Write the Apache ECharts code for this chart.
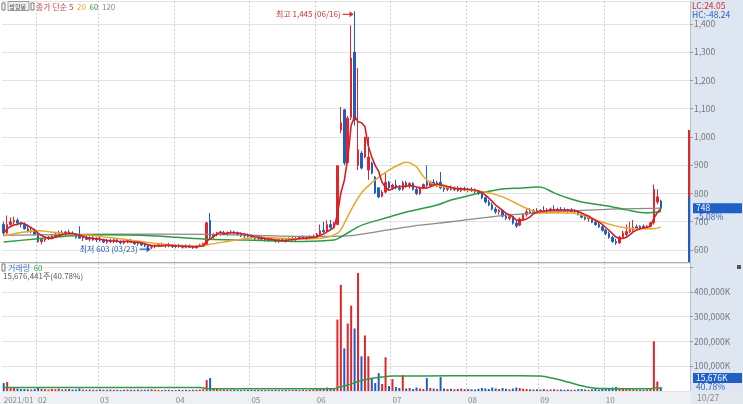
<!DOCTYPE html>
<html><head><meta charset="utf-8">
<script src="https://cdn.jsdelivr.net/npm/echarts/dist/echarts.min.js"></script>
<style>html,body{margin:0;padding:0;background:#fff}#c{width:743px;height:404px}</style>
</head><body><div id="c"></div>
<script>
// ---- calendar ----
const START = '2021-01-18', END = '2021-10-27';
const holidays = ['2021-02-11','2021-02-12','2021-03-01','2021-05-05','2021-05-19','2021-08-16','2021-09-20','2021-09-21','2021-09-22','2021-10-04','2021-10-11'];
const padSlots = 8;

// ---- daily OHLC (KRW) ----
const open = [
 690,660,690,700,705,695,690,675,665,668,
 660,630,636,640,645,650,656,662,655,664,660,652,648,642,645,638,643,636,
 640,634,628,632,630,636,628,625,630,633,628,622,626,618,615,610,612,616,620,615,618,614,
 612,616,612,610,615,610,608,614,618,620,705,648,655,660,662,658,662,664,660,656,650,652,
 648,645,640,644,638,635,638,633,630,636,632,637,641,638,642,645,640,644,648,
 645,656,670,665,690,682,690,1025,1096,910,1070,1300,900,943,929,883,908,858,820,790,805,840,
 820,830,820,815,838,828,835,815,800,820,840,828,840,830,840,820,815,822,814,820,810,818,
 812,815,810,806,800,785,770,760,745,735,740,720,712,718,695,688,710,725,735,732,740,
 736,740,738,742,745,740,744,742,738,742,736,738,725,716,710,712,698,690,682,
 670,658,645,630,625,645,655,665,672,682,676,684,680,684,696,770,773];
const close = [
 660,690,700,705,695,690,675,665,668,655,
 630,638,640,646,650,656,662,655,664,660,652,645,642,645,638,643,636,640,
 634,628,632,630,636,628,625,630,633,628,622,626,618,615,610,612,616,620,615,618,614,612,
 616,612,610,615,610,608,614,618,622,696,648,655,660,662,658,662,664,660,656,650,652,648,
 645,640,644,638,635,638,633,630,636,632,637,641,638,642,645,640,644,648,645,
 656,668,665,690,680,692,898,1050,908,1067,1280,1060,955,890,1000,929,872,802,788,805,840,820,
 830,820,815,838,828,835,815,800,820,832,828,840,830,838,820,815,822,814,820,810,818,812,
 815,810,806,800,785,770,760,745,735,740,720,712,718,695,685,710,725,735,732,740,736,
 740,738,742,745,740,744,742,738,742,736,738,725,716,710,712,698,690,682,670,
 658,645,630,625,645,660,665,672,680,675,684,680,684,696,815,788,748];
const low = [
 650,655,685,690,690,680,672,662,660,652,
 626,620,628,635,638,645,650,652,650,655,648,640,640,632,635,630,632,628,
 630,625,622,625,624,626,620,620,624,626,618,615,614,610,606,603,606,610,612,608,610,607,
 606,608,605,606,607,604,605,610,612,618,636,640,648,650,652,650,655,655,650,646,642,644,
 640,636,634,636,630,628,630,626,625,628,626,630,634,632,636,638,634,638,640,
 640,650,660,660,675,676,688,1014,900,905,1060,1040,883,885,925,848,868,798,784,786,800,812,
 812,815,810,810,820,818,810,795,795,815,823,822,825,822,815,805,808,810,808,806,805,808,
 804,806,800,795,780,765,755,740,728,725,715,706,705,690,678,684,705,718,728,726,730,
 728,732,730,735,736,733,736,735,730,732,728,722,712,705,700,695,685,678,665,
 652,640,625,618,622,640,650,660,665,672,670,675,674,680,690,762,735];
const high = [
 700,722,715,718,712,700,698,690,680,676,
 665,642,645,650,655,662,668,670,668,672,666,660,684,650,652,648,650,645,
 648,640,638,640,640,642,634,635,638,640,632,630,630,625,620,618,620,624,626,622,625,620,
 620,622,618,620,620,616,618,622,626,700,731,660,664,668,668,666,670,668,665,662,656,658,
 655,650,648,650,644,642,645,640,640,642,640,645,648,646,650,652,648,652,655,
 660,690,700,705,706,700,900,1106,1100,1075,1395,1445,1244,950,1000,1000,912,862,822,812,872,845,
 835,848,830,845,845,840,840,822,825,835,900,845,850,845,876,830,826,828,825,826,822,824,
 820,822,818,812,805,790,778,768,752,745,742,730,725,722,705,715,730,745,748,745,748,
 745,755,748,750,758,750,752,750,746,748,745,742,730,722,718,715,705,698,688,
 675,665,650,640,650,668,690,700,706,690,688,690,688,700,832,815,778];
// ---- daily volume (thousand shares) ----
const volume = [
 32000,36000,14000,12000,10000,8000,8000,7000,6000,8000,
 12000,9000,7000,6000,8000,7000,9000,6000,7000,8000,6000,6000,10000,6000,5000,6000,5000,5000,
 6000,5000,5000,6000,5000,5000,4000,5000,6000,5000,5000,6000,5000,5000,6000,7000,5000,5000,4000,5000,5000,4000,
 4000,5000,4000,5000,4000,5000,5000,6000,7000,44000,52000,12000,8000,7000,6000,6000,5000,6000,5000,4000,5000,5000,
 5000,4000,5000,4000,4000,5000,4000,5000,4000,4000,5000,4000,5000,5000,4000,5000,4000,5000,6000,
 8000,12000,10000,14000,9000,10000,288000,428000,172000,272000,344000,252000,476000,140000,224000,140000,52000,32000,72000,28000,136000,20000,
 48000,16000,12000,64000,10000,12000,8000,14000,10000,8000,52000,12000,10000,8000,56000,10000,8000,9000,7000,8000,10000,7000,
 8000,7000,6000,9000,12000,10000,8000,14000,10000,8000,12000,9000,7000,10000,14000,12000,9000,8000,7000,6000,7000,
 6000,8000,5000,6000,7000,5000,6000,5000,6000,5000,5000,7000,8000,6000,5000,7000,8000,6000,9000,
 10000,12000,14000,16000,12000,10000,9000,8000,7000,6000,6000,5000,6000,10000,200000,38441,15676.441];
// ---- moving averages: [day index, value] ----
const ma20Pts = [[0,650],[5,662],[10,668],[15,662],[20,655],[25,652],[30,645],[35,638],[40,630],[45,622],[50,617],[55,614],[58,614],[60,620],[65,630],[70,640],[75,645],[80,642],[85,640],[90,640],[95,648],[97,660],[98,671],[101,742],[104,802],[108,848],[112,883],[116,908],[117,911],[120,894],[122,860],[125,832],[130,820],[135,812],[140,805],[145,788],[150,759],[153,742],[156,731],[160,731],[165,731],[168,724],[172,706],[177,688],[181,678],[185,675],[189,675],[191,681]];
const ma60Pts = [[0,628],[10,640],[20,650],[30,654],[40,652],[50,645],[60,638],[70,635],[80,632],[87,630],[96,635],[98,646],[103,682],[106,696],[111,713],[116,731],[121,745],[126,759],[130,777],[136,795],[140,805],[145,816],[150,819],[155,823],[157,820],[160,802],[163,788],[168,770],[176,755],[181,742],[187,731],[191,735]];
const ma120Pts = [[0,652],[30,656],[60,655],[90,648],[100,650],[110,668],[121,688],[130,700],[145,722],[160,735],[175,744],[191,748]];
const volMa60Pts = [[0,14000],[57,14000],[60,9000],[96,9000],[97,13000],[100,24000],[103,38000],[106,48000],[110,56000],[113,60000],[130,61000],[150,61000],[156,60000],[160,50000],[164,36000],[168,21000],[172,11000],[180,9000],[188,9000],[189,12000],[191,12000]];
const prevVolume = 38441;
const limitRate = 0.3;

// ---- build ----
function fmt(d){return d.toISOString().slice(0,10);}
const dates=[];
for(let d=new Date(START+'T00:00:00Z'); fmt(d)<=END; d.setUTCDate(d.getUTCDate()+1)){
  const w=d.getUTCDay(); const s=fmt(d);
  if(w!==0&&w!==6&&holidays.indexOf(s)<0) dates.push(s);
}
const N=dates.length;
const cats=dates.concat(Array.from({length:padSlots},(_,k)=>'pad'+k));
const monthStart=cats.map((d,i)=>i<N&&(i===0||d.slice(5,7)!==dates[i-1].slice(5,7)));
const UP='#e0252b', DOWN='#1f5cc4';
const candle=dates.map((d,i)=>[open[i],close[i],low[i],high[i]]);
const ma5=close.map((c,i)=>{const s=close.slice(Math.max(0,i-4),i+1);return +(s.reduce((a,b)=>a+b,0)/s.length).toFixed(1);});
const FONT='"Noto Sans CJK KR", "Noto Sans", sans-serif';
const chart=echarts.init(document.getElementById('c'));
const splitLineX={show:true,interval:(i)=>monthStart[i]&&i>0,lineStyle:{color:'#cfcfcf',type:[2,2],width:1}};
const option={
  animation:false,
  textStyle:{fontFamily:FONT},
  grid:[{left:2,right:53,top:1,height:261},{left:2,right:53,top:263,height:129}],
  xAxis:[
    {type:'category',gridIndex:0,data:cats,boundaryGap:true,axisLine:{show:false},axisTick:{show:false},axisLabel:{show:false},splitLine:splitLineX},
    {type:'category',gridIndex:1,data:cats,boundaryGap:true,axisLine:{show:false},axisTick:{show:false},
     axisLabel:{show:true,interval:(i)=>monthStart[i],formatter:(v,i)=>i===0?v.slice(0,4)+'/'+v.slice(5,7):v.slice(5,7),align:'left',color:'#888',fontSize:8,margin:5,fontFamily:FONT},
     splitLine:splitLineX}
  ],
  yAxis:[
    {type:'value',gridIndex:0,position:'right',min:557.5,max:1481.4,minInterval:100,maxInterval:100,splitNumber:9,
     axisLine:{show:true,lineStyle:{color:'#b8c2cc'}},axisTick:{show:true,length:3,lineStyle:{color:'#999'}},
     axisLabel:{showMinLabel:false,showMaxLabel:false,formatter:v=>v.toLocaleString('en-US'),color:'#777',fontSize:8.5,margin:4,fontFamily:FONT},
     splitLine:{lineStyle:{color:'#e3e3e3'}}},
    {type:'value',gridIndex:1,position:'right',min:0,max:516000,minInterval:100000,maxInterval:100000,splitNumber:5,
     axisLine:{show:true,lineStyle:{color:'#b8c2cc'}},axisTick:{show:true,length:3,lineStyle:{color:'#999'}},
     axisLabel:{showMinLabel:false,showMaxLabel:false,formatter:v=>v>=500000?'':v.toLocaleString('en-US')+'K',color:'#777',fontSize:8.5,margin:4,fontFamily:FONT},
     splitLine:{lineStyle:{color:'#e3e3e3'}}}
  ],
  series:[
    {type:'candlestick',xAxisIndex:0,yAxisIndex:0,data:candle,barWidth:2,
     itemStyle:{color:UP,color0:DOWN,borderColor:UP,borderColor0:DOWN,borderWidth:1}},
    {type:'line',xAxisIndex:0,yAxisIndex:0,data:ma120Pts,showSymbol:false,smooth:0.3,lineStyle:{color:'#8a8a8a',width:1.3}},
    {type:'line',xAxisIndex:0,yAxisIndex:0,data:ma60Pts,showSymbol:false,smooth:0.3,lineStyle:{color:'#2e9a45',width:1.5}},
    {type:'line',xAxisIndex:0,yAxisIndex:0,data:ma20Pts,showSymbol:false,smooth:0.3,lineStyle:{color:'#e6a82a',width:1.5}},
    {type:'line',xAxisIndex:0,yAxisIndex:0,data:ma5,showSymbol:false,lineStyle:{color:'#d21f26',width:1.6}},
    {type:'bar',xAxisIndex:1,yAxisIndex:1,data:volume.map((v,i)=>({value:v,itemStyle:{color:close[i]>=open[i]?UP:DOWN}})),barWidth:2},
    {type:'line',xAxisIndex:1,yAxisIndex:1,data:volMa60Pts,showSymbol:false,smooth:0.3,lineStyle:{color:'#2e9a45',width:1.5}}
  ]
};
chart.setOption(option);

// ---- overlays positioned through the chart's scales ----
const P=(i,v)=>chart.convertToPixel({xAxisIndex:0,yAxisIndex:0},[i,v]);
const last=N-1, lastClose=close[last], prevClose=close[last-1];
let iMax=0,iMin=0; high.forEach((h,i)=>{if(h>high[iMax])iMax=i;}); low.forEach((l,i)=>{if(l<low[iMin])iMin=i;});
const pMax=P(iMax,high[iMax]), pMin=P(iMin,low[iMin]);
const yLast=P(last,lastClose)[1];
const yUp=P(last,prevClose*(1+limitRate))[1], yPrev=P(last,prevClose)[1];
const chg=(lastClose/prevClose-1)*100;
const lc=(lastClose/low[iMin]-1)*100, hc=(lastClose/high[iMax]-1)*100;
const vchg=volume[last]/prevVolume*100;
const md=s=>s.slice(5,7)+'/'+s.slice(8,10);
function arrow(x,y,color){return [
  {type:'line',shape:{x1:x-12,y1:y,x2:x-4,y2:y},style:{stroke:color,lineWidth:1.2},z:50},
  {type:'polygon',shape:{points:[[x-5,y-3],[x-1,y],[x-5,y+3]]},style:{fill:color},z:50}];}
const T=(x,y,text,color,size,align)=>({type:'text',x:x,y:y,style:{text:text,fill:color,font:(size||8)+'px '+FONT,textAlign:align||'left',textVerticalAlign:'middle'},z:60});
const R=(x,y,text,rich)=>({type:'text',x:x,y:y,style:{text:text,fill:'#555',font:'8px '+FONT,textVerticalAlign:'middle',rich:rich},z:60});
const hiText='최고 '+high[iMax].toLocaleString('en-US')+' ('+md(dates[iMax])+')';
const loText='최저 '+low[iMin]+' ('+md(dates[iMin])+')';
const rs=(c)=>({fill:c,font:'8px '+FONT});
const g=[
  {type:'rect',shape:{x:691,y:0,width:52,height:392},style:{fill:'#dde6f1'},z:-10},
  {type:'rect',shape:{x:0,y:392,width:743,height:12},style:{fill:'#eef0f3'},z:-10},
  {type:'rect',shape:{x:691,y:392,width:52,height:12},style:{fill:'#e3e8ef'},z:-10},
  {type:'line',shape:{x1:0,y1:262.5,x2:691,y2:262.5},style:{stroke:'#b0b0b0',lineWidth:1},z:40},
  {type:'rect',shape:{x:688,y:yUp,width:2,height:yPrev-yUp},style:{fill:UP},z:45},
  {type:'rect',shape:{x:688,y:yPrev,width:2,height:262-yPrev},style:{fill:DOWN},z:45},
  // top-left legend
  {type:'rect',shape:{x:2,y:3,width:3,height:7},style:{fill:'#fff',stroke:'#777',lineWidth:1},z:60},
  {type:'rect',shape:{x:8,y:1.5,width:21,height:9},style:{fill:'#eeeeee',stroke:'#999',lineWidth:1},z:60},
  T(9.5,6.3,'방향봉','#555',6),
  {type:'rect',shape:{x:31,y:3,width:3,height:7},style:{fill:'#fff',stroke:'#777',lineWidth:1},z:60},
  R(36,6.5,'{a|종가 단순 5}  {b|20}  {c|60}  {d|120}',{a:rs('#d0464a'),b:rs('#e6a82a'),c:rs('#2e9a45'),d:rs('#8a8a8a')}),
  // volume legend
  {type:'rect',shape:{x:2,y:264,width:3,height:7},style:{fill:'#fff',stroke:'#777',lineWidth:1},z:60},
  R(8,267.5,'{a|거래량}  {b|60}',{a:rs('#3a74c4'),b:rs('#2e9a45')}),
  T(3,276,Math.round(volume[last]*1000).toLocaleString('en-US')+'주('+vchg.toFixed(2)+'%)','#555'),
  // high / low marks
  ...arrow(pMax[0],pMax[1]+3,'#d0302f'),
  T(pMax[0]-14,pMax[1]+3,hiText,'#d0302f',8,'right'),
  ...arrow(pMin[0],pMin[1],'#2456b8'),
  T(pMin[0]-14,pMin[1],loText,'#2456b8',8,'right'),
  // right panel texts
  T(692,6,'LC:'+lc.toFixed(2),'#d0302f',8.5),
  T(692,15,'HC:'+hc.toFixed(2),'#2b62c0',8.5),
  {type:'rect',shape:{x:693,y:yLast-5,width:49,height:10},style:{fill:'#1f5fc6'},z:55},
  T(696,yLast,String(lastClose),'#fff',8.5),
  T(696,yLast+9,chg.toFixed(2)+'%','#2b62c0',8.5),
  {type:'rect',shape:{x:693,y:373,width:49,height:10},style:{fill:'#1f5fc6'},z:55},
  T(696,378,Math.round(volume[last]).toLocaleString('en-US')+'K','#fff',8.5),
  T(696,387,vchg.toFixed(2)+'%','#2b62c0',8.5),
  T(697,398,md(dates[last]),'#888',8.5),
  {type:'rect',shape:{x:737,y:265,width:4,height:4},style:{fill:'#555'},z:60}
];
chart.setOption({graphic:{elements:g}});
</script></body></html>
